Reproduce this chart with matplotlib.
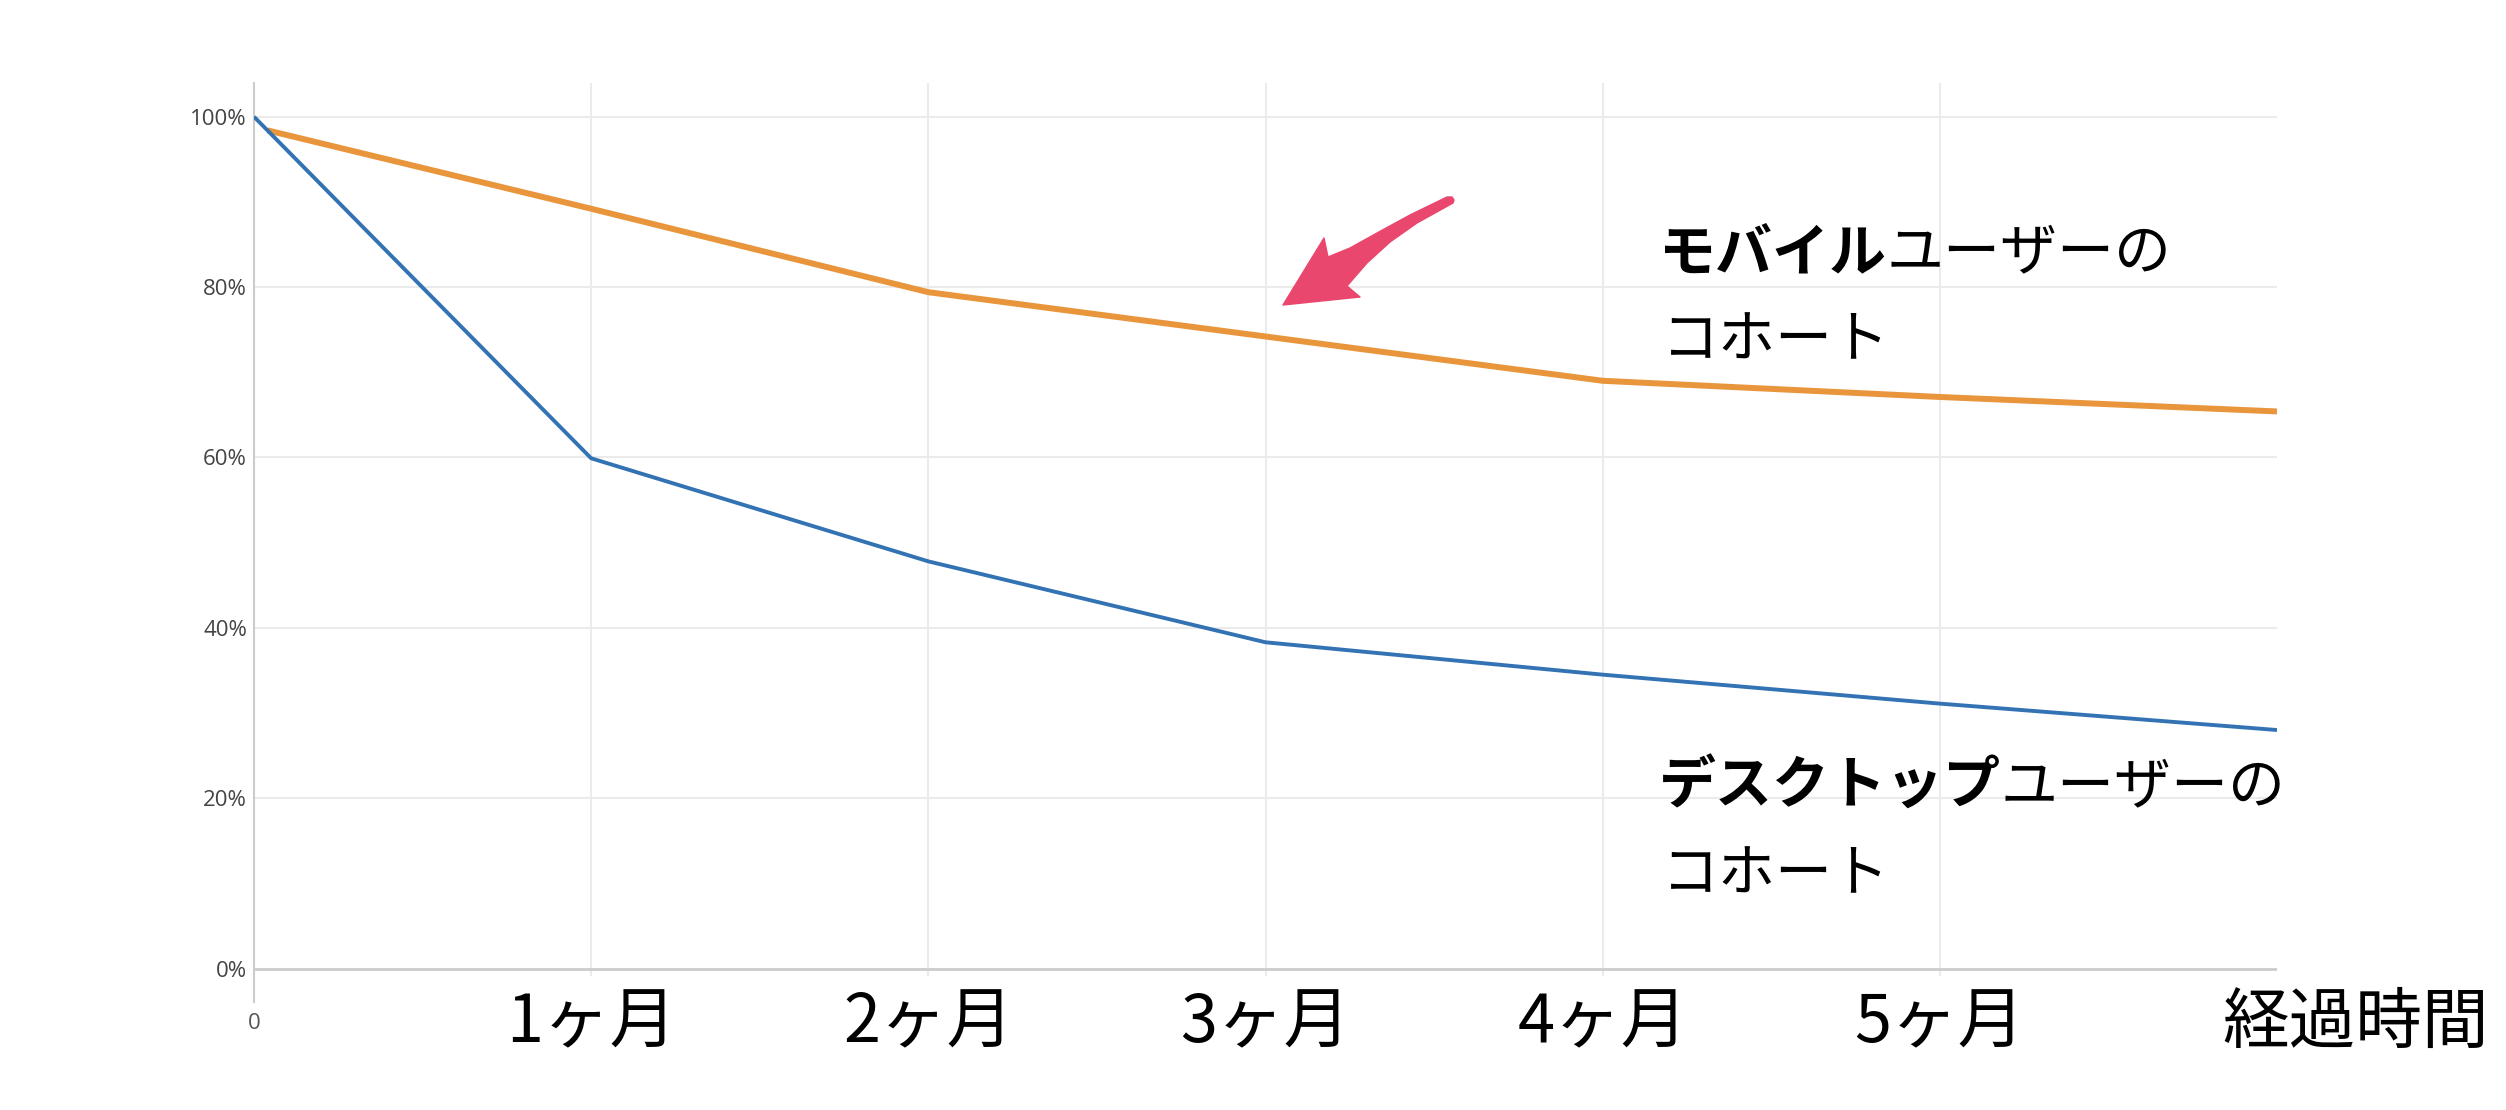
import matplotlib.pyplot as plt
from matplotlib.patches import Polygon

# データ
months = [0, 1, 2, 3, 4, 5, 6]
mobile_x = [0.04, 1, 2, 3, 4, 5, 6]
mobile = [98.4, 89.2, 79.4, 74.2, 69.0, 67.1, 65.4]
desktop = [100.0, 59.9, 47.8, 38.3, 34.5, 31.1, 28.0]
y_ticks = [0, 20, 40, 60, 80, 100]
y_labels = ['0%', '20%', '40%', '60%', '80%', '100%']
x_labels = ['0', '1ヶ月', '2ヶ月', '3ヶ月', '4ヶ月', '5ヶ月']

JP = ['Noto Sans CJK JP', 'DejaVu Sans']
plt.rcParams['font.family'] = JP

W, H = 2506, 1110
fig = plt.figure(figsize=(W / 100, H / 100), dpi=100)
ax = fig.add_axes([254 / W, 108 / H, 2023 / W, 919 / H])
ax.set_xlim(0, 6)
ax.set_ylim(-3.93, 103.96)

grid_c = '#ebebeb'
ax.hlines(y_ticks[1:], 0, 6, color=grid_c, lw=1.5, zorder=1)
# 右端（6）には縦のグリッド線なし
ax.vlines(months[1:6], -0.85, 103.96, color=grid_c, lw=1.5, zorder=1)
ax.hlines(0, 0, 6, color='#cccccc', lw=2, zorder=2)

for s in ['top', 'right', 'bottom']:
    ax.spines[s].set_visible(False)
ax.spines['left'].set_color('#cccccc')
ax.spines['left'].set_linewidth(1.5)

ax.plot(mobile_x, mobile, color='#E8953B', lw=4.3, solid_capstyle='butt', zorder=3)
ax.plot(months, desktop, color='#3373B3', lw=2.8, solid_capstyle='butt', zorder=4)

ax.set_yticks(y_ticks)
ax.set_yticklabels(y_labels, family='Open Sans', fontsize=16, color='#444444')
ax.tick_params(axis='y', length=0, pad=5)

ax.set_xticks(months[:6])
ax.set_xticklabels(x_labels, fontsize=48, color='black', va='center')
ax.tick_params(axis='x', length=0, pad=15.5)
lbl0 = ax.get_xticklabels()[0]
lbl0.set_fontsize(16)
lbl0.set_family('Open Sans')
lbl0.set_color('#555555')

ax.annotate('経過時間', xy=(6, 0), xycoords=('data', 'axes fraction'),
            xytext=(79, -22), textcoords='offset pixels',
            ha='center', va='center', fontsize=48, color='black',
            annotation_clip=False)


def label(x, y, bold, normal, second):
    t1 = ax.text(x, y, bold, fontsize=41, fontweight='bold', ha='left', va='center')
    ax.annotate(normal, xy=(1, 0.5), xycoords=t1, ha='left', va='center', fontsize=41)
    ax.text(x + 0.01, y - 10.3, second, fontsize=41, ha='left', va='center')


label(4.166, 84.0, 'モバイル', 'ユーザーの', 'コホート')
label(4.166, 21.3, 'デスクトップ', 'ユーザーの', 'コホート')

# 矢印（ピンク）
arrow_px = [(1283, 305), (1360, 297), (1347, 286), (1367, 263), (1390, 242),
            (1417, 223), (1453, 203), (1454, 200), (1452, 197), (1447, 197),
            (1410, 215), (1377, 233), (1350, 248), (1328, 257), (1324, 238)]
arrow = Polygon([(x / W, 1 - y / H) for x, y in arrow_px], closed=True,
                transform=fig.transFigure, facecolor='#E9476E', edgecolor='#E9476E',
                lw=1, joinstyle='round', zorder=10)
fig.patches.append(arrow)

plt.savefig('out.png', dpi=100, facecolor='white')
